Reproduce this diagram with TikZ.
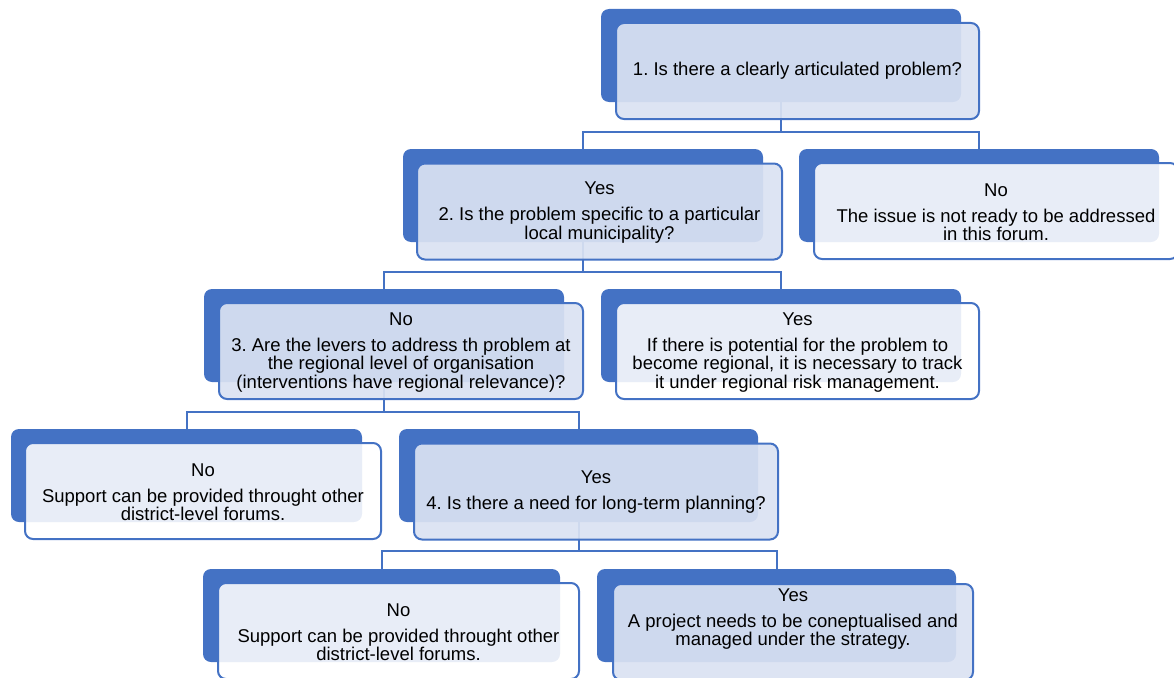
\documentclass[tikz,border=0pt]{standalone}
\usepackage{fontspec}
\setmainfont{Liberation Sans}
\frenchspacing
\definecolor{accblue}{HTML}{4472C4}
\definecolor{qfill}{RGB}{218,226,242}
\begin{document}
\begin{tikzpicture}[x=1pt,y=-1pt,
  backbox/.style={fill=accblue, rounded corners=8pt, minimum height=93pt, inner sep=0pt},
  frontq/.style={draw=accblue, line width=2pt, fill=qfill, fill opacity=0.92, rounded corners=8pt, minimum height=96pt, inner sep=0pt},
  fronto/.style={draw=accblue, line width=2pt, fill=white, fill opacity=0.88, rounded corners=8pt, minimum height=96pt, inner sep=0pt},
  conn/.style={draw=accblue, line width=2pt},
  txt/.style={align=center, font=\fontsize{18.5}{18.3}\selectfont, text=black, inner sep=0pt}]
\useasboundingbox (0,0) rectangle (1174,677);
\clip (0,0) rectangle (1174,677);
% back boxes
\node[backbox, minimum width=360pt] (k1)  at (781,55.5) {};
\node[backbox, minimum width=360pt] (k2)  at (583,195.5) {};
\node[backbox, minimum width=360pt] (k2n) at (979,195.5) {};
\node[backbox, minimum width=360pt] (k3)  at (384,335.5) {};
\node[backbox, minimum width=360pt] (k3y) at (781,335.5) {};
\node[backbox, minimum width=351pt] (k4n) at (186.5,475.5) {};
\node[backbox, minimum width=359pt] (k4)  at (578.5,475.5) {};
\node[backbox, minimum width=357pt] (k5n) at (381.5,615.5) {};
\node[backbox, minimum width=359pt] (k5y) at (776.5,615.5) {};
% connectors
\path (k1.south) ++(0,30) coordinate (j1);
\path (k2.south) ++(0,30) coordinate (j2);
\path (k3.south) ++(0,30) coordinate (j3);
\path (k4.south) ++(0,29) coordinate (j4);
\draw[conn] (k1.south) -- (j1);
\draw[conn] (k2.north) |- (j1) -| (k2n.north);
\draw[conn] (k2.south) -- (j2);
\draw[conn] (k3.north) |- (j2) -| (k3y.north);
\draw[conn] (k3.south) -- (j3);
\draw[conn] (k4n.north) |- (j3) -| (k4.north);
\draw[conn] (k4.south) -- (j4);
\draw[conn] (k5n.north) |- (j4) -| (k5y.north);
% front boxes
\node[frontq, minimum width=363pt] (f1)  at (797.5,71) {};
\node[frontq, minimum width=365pt] (f2)  at (599.5,211.5) {};
\node[fronto, minimum width=364pt] (f2n) at (996,211) {};
\node[frontq, minimum width=364pt] (f3)  at (401,351) {};
\node[fronto, minimum width=363pt] (f3y) at (797.5,351) {};
\node[fronto, minimum width=356pt] (f4n) at (203,491) {};
\node[frontq, minimum width=364pt] (f4)  at (596,491.5) {};
\node[fronto, minimum width=361pt] (f5n) at (398.5,631) {};
\node[frontq, minimum width=360pt] (f5y) at (793,632) {};
% texts
\node[txt] (t1)  at (f1.center) {1. Is there a clearly articulated problem?};
\node[txt] (t2)  at ([yshift=-1pt]f2.center) {Yes\\[7.7pt]2. Is the problem specific to a particular\\local municipality?};
\node[txt] (t2n) at ([yshift=-1pt]f2n.center) {No\\[7.7pt]The issue is not ready to be addressed\\in this forum.};
\node[txt] (t3)  at ([yshift=-1.3pt]f3.center) {No\\[7.7pt]3. Are the levers to address th problem at\\the regional level of organisation\\(interventions have regional relevance)?};
\node[txt] (t3y) at ([yshift=-1.3pt]f3y.center) {Yes\\[7.7pt]If there is potential for the problem to\\become regional, it is necessary to track\\it under regional risk management.};
\node[txt] (t4n) at ([yshift=-1pt]f4n.center) {No\\[7.7pt]Support can be provided throught other\\district-level forums.};
\node[txt] (t4)  at ([yshift=-1pt]f4.center) {Yes\\[7.7pt]4. Is there a need for long-term planning?};
\node[txt] (t5n) at ([yshift=-1pt]f5n.center) {No\\[7.7pt]Support can be provided throught other\\district-level forums.};
\node[txt] (t5y) at ([yshift=12.9pt]f5y.center) {Yes\\[7.7pt]A project needs to be coneptualised and\\managed under the strategy.};
\end{tikzpicture}
\end{document}
